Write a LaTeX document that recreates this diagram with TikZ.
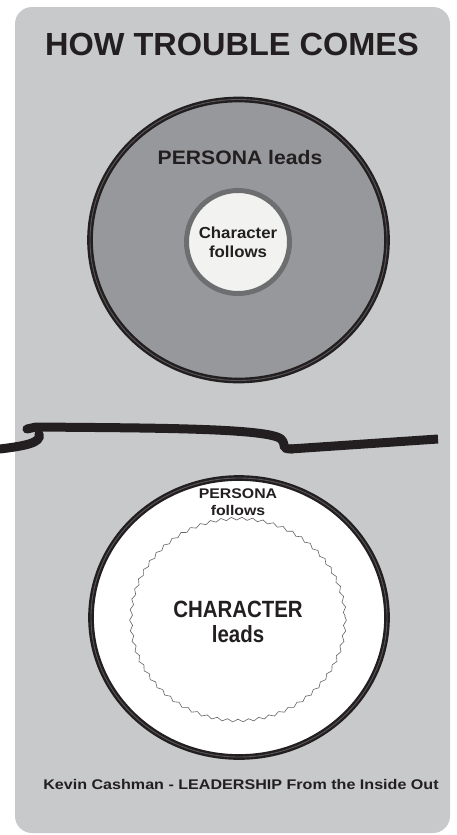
\documentclass[tikz,border=0pt]{standalone}
\usepackage{fontspec}
\setmainfont{Liberation Sans}
\usetikzlibrary{decorations.pathmorphing}
\definecolor{panel}{HTML}{C8C9CB}
\definecolor{outerfill}{HTML}{97989C}
\definecolor{innerfill}{HTML}{F2F3F1}
\definecolor{ringgray}{HTML}{6D6E70}
\definecolor{ink}{HTML}{231F20}
\tikzset{
  txt/.style={text=ink, inner sep=0pt, anchor=base, font=\bfseries},
  bigring/.style={draw=ink, double=ink!75, double distance=0.9pt, line width=2.4pt},
}
\begin{document}
\begin{tikzpicture}[x=1pt,y=-1pt]
\useasboundingbox (0,0) rectangle (456,835);
\fill[white] (0,0) rectangle (456,835);
% panel
\fill[panel, rounded corners=17pt] (15,7) rectangle (450,833);
% title
\node[txt, font=\bfseries\fontsize{32}{36}\selectfont] (title) at (232,55) {\scalebox{1.015}[1]{HOW TROUBLE COMES}};
% top circles
\draw[bigring, fill=outerfill] (238.5,240) ellipse [x radius=148.5, y radius=140.5];
\node[txt, font=\bfseries\fontsize{19.5}{22}\selectfont] (pl) at (240,164) {\scalebox{1.085}[1]{PERSONA leads}};
\draw[draw=ringgray, line width=5pt, fill=innerfill] (238,242) circle [radius=51.5];
\node[txt, font=\bfseries\fontsize{16}{18}\selectfont] (ch) at (238,238) {\scalebox{1.05}[1]{Character}};
\node[txt, font=\bfseries\fontsize{16}{18}\selectfont] (cf) at (238,257) {\scalebox{1.05}[1]{follows}};
% break line
\draw[ink, line width=9pt, line cap=round] (0,449) .. controls (24,446) and (42,443) .. (39,434);
\draw[ink, line width=9pt, line cap=round] (27,429) -- (36,427) .. controls (150,428) and (268,428) .. (281,439)
  .. controls (287,445) and (280,449) .. (292,449);
\draw[ink, line width=9pt] (290,449) -- (438,439);
% bottom circles
\draw[bigring, fill=white] (239,617.5) ellipse [x radius=148, y radius=139.5];
\draw[ink!70, line width=0.6pt, decorate, decoration={snake, segment length=10.5pt, amplitude=1.4pt}]
  (238,617) ellipse [x radius=107, y radius=101];
\node[txt, font=\bfseries\fontsize{14}{16}\selectfont] (pp) at (238,498) {\scalebox{1.13}[1]{PERSONA}};
\node[txt, font=\bfseries\fontsize{14}{16}\selectfont] (pf) at (238,515) {\scalebox{1.13}[1]{follows}};
\node[txt, font=\bfseries\fontsize{23.5}{26}\selectfont] (cc) at (238,617) {\scalebox{0.87}[1]{CHARACTER}};
\node[txt, font=\bfseries\fontsize{23.5}{26}\selectfont] (cl) at (238,642) {\scalebox{0.87}[1]{leads}};
% footer
\node[txt, font=\bfseries\fontsize{14}{16}\selectfont] (foot) at (241,789) {\scalebox{1.15}[1]{Kevin Cashman - LEADERSHIP From the Inside Out}};
\end{tikzpicture}
\end{document}
